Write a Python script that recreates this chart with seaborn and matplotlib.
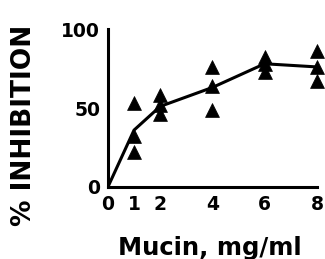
import matplotlib
matplotlib.use("Agg")
import matplotlib.pyplot as plt
import seaborn as sns
import pandas as pd

# Individual measurements (triangles)
pt_x = [1, 1, 1, 2, 2, 2, 4, 4, 4, 6, 6, 6, 8, 8, 8]
pt_y = [53, 32, 22, 58, 52, 46, 76, 64, 49, 82, 78, 73, 86, 76, 67]

# Mean curve
line_x = [0, 1, 2, 4, 6, 8]
line_y = [0, 36, 51, 63, 78, 76]

x_ticks = [0, 1, 2, 4, 6, 8]
y_ticks = [0, 50, 100]

sns.set_style("white")
plt.rcParams['font.family'] = ['DejaVu Sans']
plt.rcParams.update({
    "text.color": "black",
    "axes.labelcolor": "black",
    "xtick.color": "black",
    "ytick.color": "black",
})

fig = plt.figure(figsize=(3.25, 2.59), dpi=100)
ax = fig.add_axes([0.332, 0.278, 0.643, 0.61])

pts = pd.DataFrame({"x": pt_x, "y": pt_y})
ln = pd.DataFrame({"x": line_x, "y": line_y})

sns.lineplot(data=ln, x="x", y="y", ax=ax, color="black", linewidth=2.2, zorder=2)
sns.scatterplot(data=pts, x="x", y="y", ax=ax, marker="^", s=100, color="black",
                edgecolor="black", linewidth=0.5, zorder=3, clip_on=False)

ax.set_xlim(0, 8)
ax.set_ylim(0, 100)
ax.set_xticks(x_ticks)
ax.set_yticks(y_ticks)
ax.set_xticklabels([str(v) for v in x_ticks], fontsize=13.5, fontweight="bold", color="black")
ax.set_yticklabels([str(v) for v in y_ticks], fontsize=13.5, fontweight="bold", color="black")

for s in ["top", "right"]:
    ax.spines[s].set_visible(False)
for s in ["left", "bottom"]:
    ax.spines[s].set_linewidth(2.2)
    ax.spines[s].set_color("black")

ax.tick_params(axis="both", direction="out", length=4, width=1.8, color="black",
               labelcolor="black", pad=1.5)

ax.set_xlabel("Mucin, mg/ml", fontsize=17.5, fontweight="bold", color="black")
ax.xaxis.set_label_coords(0.49, -0.43)
ax.xaxis.label.set_verticalalignment("baseline")

ax.set_ylabel("% INHIBITION", fontsize=19, fontweight="bold", color="black")
ax.yaxis.set_label_coords(-0.402, 0.39)
ax.yaxis.label.set_verticalalignment("center")

fig.savefig("out.png", dpi=100)
